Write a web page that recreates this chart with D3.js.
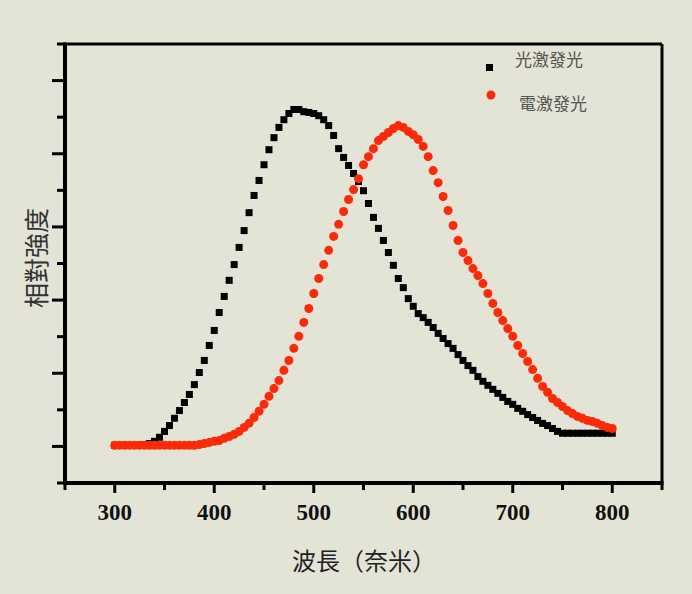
<!DOCTYPE html>
<meta charset="utf-8">
<script src="https://d3js.org/d3.v7.min.js"></script>
<style>
  body { margin: 0; background: #e4e4d6; }
  svg { display: block; background: #e4e4d6; }
</style>
<div id="chart"></div>
<script>
// wavelength grid (nm), 5 nm steps
var wavelengths = d3.range(300, 801, 5);

// 光激發光 (photoluminescence), relative intensity
var plValues = [
  0.3, 0.3, 0.3, 0.3, 0.3, 0.3, 0.5, 0.8, 1.4, 2.5,
  4.1, 5.7, 7.7, 9.8, 12.0, 14.2, 16.9, 20.2, 23.5, 27.6,
  31.7, 36.6, 41.0, 45.4, 49.7, 54.4, 59.0, 63.9, 68.6, 72.7,
  77.0, 81.1, 84.4, 87.2, 89.3, 91.0, 92.1, 92.1, 91.5, 91.3,
  91.0, 90.4, 89.3, 87.7, 85.0, 81.4, 79.0, 76.8, 74.6, 72.4,
  69.9, 66.4, 62.6, 59.6, 56.3, 53.0, 49.5, 45.9, 43.4, 40.4,
  38.3, 36.3, 35.2, 33.9, 32.5, 30.9, 29.5, 28.1, 26.8, 25.1,
  23.5, 22.1, 20.8, 19.1, 17.8, 16.7, 15.6, 14.5, 13.4, 12.3,
  11.5, 10.4, 9.6, 8.7, 7.9, 7.1, 6.3, 5.7, 4.9, 4.1,
  3.6, 3.6, 3.6, 3.6, 3.6, 3.6, 3.6, 3.6, 3.6, 3.6, 3.6
];

// 電激發光 (electroluminescence), relative intensity
var elValues = [
  0.3, 0.3, 0.3, 0.3, 0.3, 0.3, 0.3, 0.3, 0.3, 0.3,
  0.3, 0.3, 0.3, 0.3, 0.3, 0.3, 0.3, 0.5, 0.8, 1.1,
  1.4, 1.6, 2.2, 2.7, 3.3, 4.1, 5.2, 6.3, 7.9, 9.6,
  11.5, 13.7, 15.8, 18.0, 20.8, 23.5, 26.8, 30.1, 33.9, 37.7,
  41.8, 45.9, 49.7, 53.6, 57.4, 60.7, 64.2, 67.5, 70.2, 73.2,
  77.0, 79.2, 81.4, 83.6, 84.7, 85.8, 86.9, 87.7, 87.2, 86.1,
  85.2, 83.9, 82.0, 79.2, 75.4, 72.1, 68.3, 64.5, 60.4, 56.3,
  53.0, 50.8, 48.6, 46.7, 44.5, 41.8, 39.1, 36.6, 34.4, 32.2,
  30.1, 27.6, 25.4, 23.2, 21.0, 18.6, 16.4, 14.8, 13.1, 12.0,
  10.9, 9.8, 9.0, 8.2, 7.7, 7.1, 6.8, 6.3, 5.7, 5.2, 4.9
];

var xTickLabels = [300, 400, 500, 600, 700, 800];
var seriesNames = ["光激發光", "電激發光"];

var W = 692, H = 594;
var margin = {top: 44, right: 30, bottom: 111, left: 65};
var width = W - margin.left - margin.right,
    height = H - margin.top - margin.bottom;

var svg = d3.select("#chart").append("svg")
    .attr("width", W).attr("height", H);

var g = svg.append("g")
    .attr("transform", "translate(" + margin.left + "," + margin.top + ")");

var x = d3.scaleLinear().domain([250, 850]).range([0, width]);
var y = d3.scaleLinear().domain([-10, 110]).range([height, 0]);

// x ticks: major every 100, minor in between
var xTicks = d3.range(250, 851, 50);
g.selectAll(".xtick").data(xTicks).enter().append("line")
    .attr("x1", function(d){ return x(d); })
    .attr("x2", function(d){ return x(d); })
    .attr("y1", height)
    .attr("y2", function(d){ return height + (d % 100 === 0 ? 10 : 7); })
    .attr("stroke", "#000").attr("stroke-width", 3);

g.selectAll(".xlab").data(xTickLabels).enter().append("text")
    .attr("x", function(d){ return x(d); })
    .attr("y", height + 37)
    .attr("text-anchor", "middle")
    .style("font-family", "'Liberation Serif', 'DejaVu Serif', serif")
    .style("font-weight", "bold")
    .style("font-size", "23px")
    .style("fill", "#111")
    .text(function(d){ return d; });

// y ticks: major every 20, minor in between, no labels
var yTicks = d3.range(-10, 111, 10);
g.selectAll(".ytick").data(yTicks).enter().append("line")
    .attr("y1", function(d){ return y(d); })
    .attr("y2", function(d){ return y(d); })
    .attr("x1", 0)
    .attr("x2", function(d){ return (d % 20 === 0) ? -13 : -8; })
    .attr("stroke", "#000").attr("stroke-width", 3);

// frame
g.append("line").attr("x1", 0).attr("x2", width).attr("y1", 0).attr("y2", 0)
    .attr("stroke", "#000").attr("stroke-width", 3);
g.append("line").attr("x1", width).attr("x2", width).attr("y1", 0).attr("y2", height)
    .attr("stroke", "#000").attr("stroke-width", 3);
g.append("line").attr("x1", 0).attr("x2", 0).attr("y1", -1.5).attr("y2", height + 2)
    .attr("stroke", "#000").attr("stroke-width", 4);
g.append("line").attr("x1", -2).attr("x2", width + 1.5).attr("y1", height).attr("y2", height)
    .attr("stroke", "#000").attr("stroke-width", 4);

// data
var pl = wavelengths.map(function(w, i){ return {w: w, v: plValues[i]}; });
var el = wavelengths.map(function(w, i){ return {w: w, v: elValues[i]}; });

var sq = 7;
g.selectAll(".pl").data(pl).enter().append("rect")
    .attr("x", function(d){ return x(d.w) - sq / 2; })
    .attr("y", function(d){ return y(d.v) - sq / 2; })
    .attr("width", sq).attr("height", sq)
    .attr("fill", "#000");

g.selectAll(".el").data(el).enter().append("circle")
    .attr("cx", function(d){ return x(d.w); })
    .attr("cy", function(d){ return y(d.v); })
    .attr("r", 4.5)
    .attr("fill", "#fb2a08");

// legend
svg.append("rect").attr("x", 486).attr("y", 64).attr("width", 7).attr("height", 7).attr("fill", "#000");
svg.append("circle").attr("cx", 491).attr("cy", 95).attr("r", 4.5).attr("fill", "#fb2a08");
svg.append("text").attr("x", 515).attr("y", 66)
    .style("font-family", "'Noto Sans CJK TC', sans-serif")
    .style("font-size", "17px").style("fill", "#555")
    .text(seriesNames[0]);
svg.append("text").attr("x", 519).attr("y", 110)
    .style("font-family", "'Noto Sans CJK TC', sans-serif")
    .style("font-size", "17px").style("fill", "#555")
    .text(seriesNames[1]);

// axis titles
svg.append("text")
    .attr("transform", "translate(46,258)rotate(-90)")
    .attr("text-anchor", "middle")
    .style("font-family", "'Noto Sans CJK TC', sans-serif")
    .style("font-size", "25px").style("fill", "#333")
    .text("相對強度");

svg.append("text")
    .attr("x", 364).attr("y", 570)
    .attr("text-anchor", "middle")
    .style("font-family", "'Noto Sans CJK TC', sans-serif")
    .style("font-size", "24px").style("fill", "#222")
    .text("波長（奈米）");
</script>
